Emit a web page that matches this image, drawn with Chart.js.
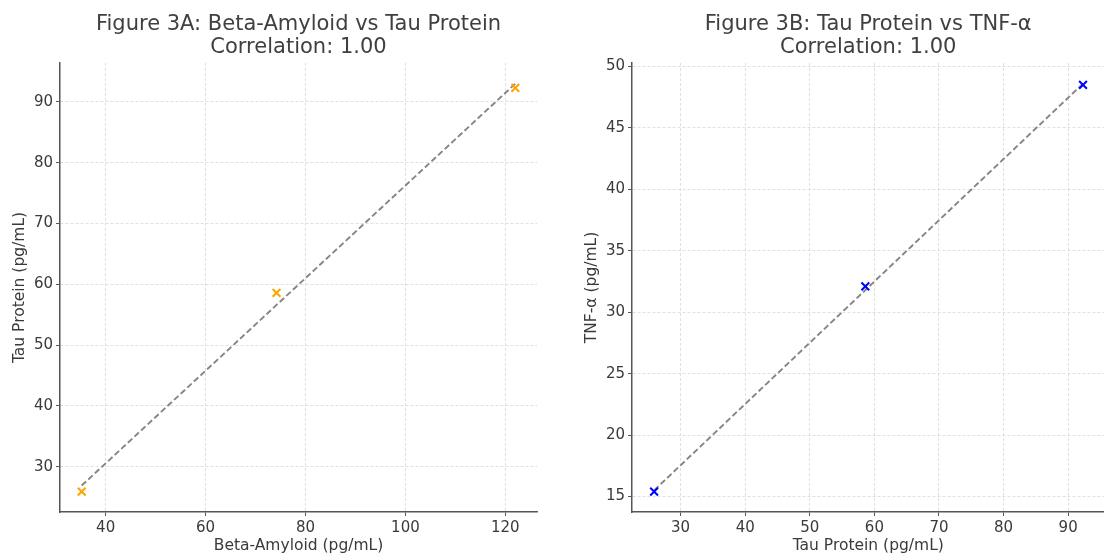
<!DOCTYPE html>
<html><head><meta charset="utf-8">
<script src="https://cdn.jsdelivr.net/npm/chart.js@4/dist/chart.umd.min.js"></script>
<style>
html,body{margin:0;padding:0;background:#fff;overflow:hidden;width:1104px;height:555px;}
#wrap{position:relative;width:1104px;height:555px;overflow:hidden;background:#fff;}
canvas{position:absolute;top:0;}
#cA{left:0}
#cB{left:552px}
</style></head><body>
<div id="wrap">
<canvas id="cA" width="552" height="555"></canvas>
<canvas id="cB" width="560" height="555"></canvas>
</div>
<script>
// ---- data ----
const betaAmyloid = [35.2, 74.2, 122.0];
const tauProtein  = [25.9, 58.6, 92.3];
const tnfAlpha    = [15.4, 32.1, 48.5];
// dashed fit line endpoints
const fitAx = [35.2, 122.0];
const fitAy = [26.9, 93.0];
const fitBx = [25.9, 92.3];
const fitBy = [15.5, 48.6];
// ticks
const ticksAx = [40, 60, 80, 100, 120];
const ticksAy = [30, 40, 50, 60, 70, 80, 90];
const ticksBx = [30, 40, 50, 60, 70, 80, 90];
const ticksBy = [15, 20, 25, 30, 35, 40, 45, 50];
// axis limits
const limAx = [30.86, 126.34], limAy = [22.55, 96.4];
const limBx = [22.475, 95.625], limBy = [13.74, 50.28];
const titleA = ['Figure 3A: Beta-Amyloid vs Tau Protein', 'Correlation: 1.00'];
const titleB = ['Figure 3B: Tau Protein vs TNF-\u03b1', 'Correlation: 1.00'];

const FONT = "'DejaVu Sans', sans-serif";
const TXT = '#3a3a3a';

function pts(xs, ys){ return xs.map((x,i)=>({x:x, y:ys[i]})); }

function makeChart(id, xs, ys, fx, fy, color, title, xLabel, yLabel, xt, yt, xl, yl, yWidth, yTitlePad, padRight){
  const gridCommon = {
    color: '#d8d8d8', lineWidth: 0.8, drawTicks: true, tickLength: 4,
    tickColor: '#555555', tickWidth: 1, tickBorderDash: []
  };
  return new Chart(document.getElementById(id), {
    type: 'scatter',
    data: {
      datasets: [
        { data: pts(xs, ys), pointStyle: 'crossRot', pointRadius: 5.5, pointBorderWidth: 2,
          borderColor: color, backgroundColor: color, showLine: false, order: 0 },
        { data: pts(fx, fy), showLine: true, pointRadius: 0, borderColor: '#858585',
          borderWidth: 1.9, borderDash: [6, 3], order: 1 }
      ]
    },
    options: {
      responsive: false, animation: false, devicePixelRatio: 1,
      layout: { padding: { left: 0, right: padRight, top: 0, bottom: 0 } },
      plugins: {
        legend: { display: false }, tooltip: { enabled: false },
        title: { display: true, text: title, color: '#404040', fullSize: false,
          font: { family: FONT, size: 21, weight: 'normal', lineHeight: 1.1 },
          padding: { top: 12.5, bottom: 4.3 } }
      },
      scales: {
        x: {
          type: 'linear', position: 'bottom', min: xl[0], max: xl[1],
          afterBuildTicks: s => { s.ticks = xt.map(v => ({value: v})); },
          afterFit: s => { s.height = 43; },
          grid: gridCommon,
          border: { display: true, color: '#555555', width: 1.5, dash: [3, 2] },
          ticks: { color: TXT, font: { family: FONT, size: 15 }, padding: 3, maxRotation: 0 },
          title: { display: true, text: xLabel, color: TXT, font: { family: FONT, size: 15.5 }, padding: { top: 0, bottom: 0 } }
        },
        y: {
          type: 'linear', position: 'left', min: yl[0], max: yl[1],
          afterBuildTicks: s => { s.ticks = yt.map(v => ({value: v})); },
          afterFit: s => { s.width = yWidth; },
          grid: gridCommon,
          border: { display: true, color: '#555555', width: 1.5, dash: [3, 2] },
          ticks: { color: TXT, font: { family: FONT, size: 15 }, padding: 3 },
          title: { display: true, text: yLabel, color: TXT, font: { family: FONT, size: 15.5 }, padding: { top: yTitlePad, bottom: 0 } }
        }
      }
    }
  });
}

makeChart('cA', betaAmyloid, tauProtein, fitAx, fitAy, '#FFA500', titleA,
  'Beta-Amyloid (pg/mL)', 'Tau Protein (pg/mL)', ticksAx, ticksAy, limAx, limAy, 60, 10.7, 15);
makeChart('cB', tauProtein, tnfAlpha, fitBx, fitBy, '#0000FF', titleB,
  'Tau Protein (pg/mL)', 'TNF-\u03b1 (pg/mL)', ticksBx, ticksBy, limBx, limBy, 80, 30.7, 4);
</script>
</body></html>
